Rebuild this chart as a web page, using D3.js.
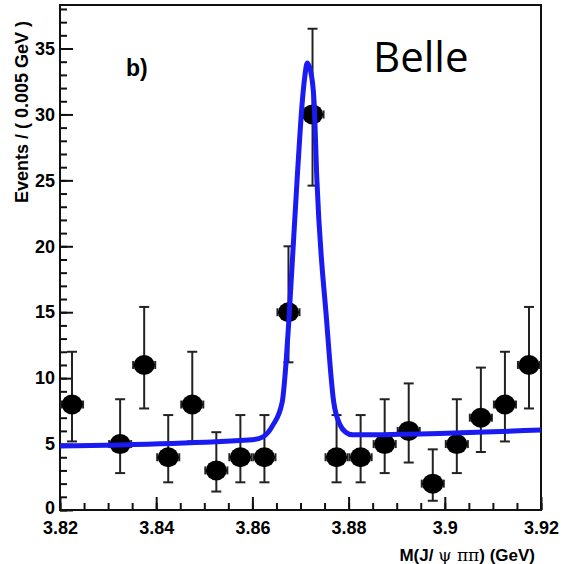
<!DOCTYPE html>
<html>
<head>
<meta charset="utf-8">
<script src="https://cdn.jsdelivr.net/npm/d3@7"></script>
<style>
  body { margin: 0; background: #fff; }
  text { font-family: "Liberation Sans", Arial, sans-serif; font-weight: bold; fill: #000; }
</style>
</head>
<body>
<script>
// bin centres (GeV), counts and asymmetric errors
var mass   = [3.8225, 3.8325, 3.8375, 3.8425, 3.8475, 3.8525, 3.8575, 3.8625, 3.8675, 3.8725,
              3.8775, 3.8825, 3.8875, 3.8925, 3.8975, 3.9025, 3.9075, 3.9125, 3.9175];
var events = [8, 5, 11, 4, 8, 3, 4, 4, 15, 30, 4, 4, 5, 6, 2, 5, 7, 8, 11];
var errLo  = [5.2, 2.8, 7.7, 2.1, 5.2, 1.4, 2.1, 2.1, 11.2, 24.6, 2.1, 2.1, 2.8, 3.6, 0.7, 2.8, 4.4, 5.2, 7.7];
var errHi  = [12.0, 8.4, 15.4, 7.2, 12.0, 5.9, 7.2, 7.2, 20.0, 36.5, 7.2, 7.2, 8.4, 9.6, 4.6, 8.4, 10.8, 12.0, 15.4];
var binHalf = 0.0025;

// fit curve, points
var fitMass = [3.8200, 3.8600, 3.8622, 3.8642, 3.8662, 3.8670, 3.8676, 3.8693, 3.8704, 3.8709, 3.8714,
               3.8723, 3.8728, 3.8734, 3.8754, 3.8769, 3.8783, 3.8794, 3.8808, 3.9200];
var fitVal  = [4.85, 5.33, 5.55, 6.4, 8.2, 11.2, 14.5, 25.1, 31.1, 32.9, 33.9,
               32.9, 31.1, 25.1, 14.5, 8.2, 6.4, 5.9, 5.7, 6.06];

var xTicks = [3.82, 3.84, 3.86, 3.88, 3.90, 3.92];
var xMinor = [];
for (var i = 0; i <= 20; i++) xMinor.push(3.82 + i * 0.005);
var yTicks = [0, 5, 10, 15, 20, 25, 30, 35];
var yMinor = d3.range(0, 39, 1);

var width = 564, height = 564;
var margin = {left: 60, right: 23, top: 5, bottom: 54};

var svg = d3.select("body").append("svg")
            .attr("width", width)
            .attr("height", height);

var x = d3.scaleLinear().domain([3.82, 3.92]).range([margin.left, width - margin.right]);
var y = d3.scaleLinear().domain([0, 38.3]).range([height - margin.bottom, margin.top]);

// minor ticks
svg.append("g")
   .attr("transform", "translate(" + margin.left + ",0)")
   .call(d3.axisLeft(y).tickValues(yMinor).tickSize(-7).tickFormat(""))
   .call(function(g) { g.select(".domain").remove(); g.selectAll("line").attr("stroke", "#111").attr("stroke-width", 2); });
svg.append("g")
   .attr("transform", "translate(0," + (height - margin.bottom) + ")")
   .call(d3.axisBottom(x).tickValues(xMinor).tickSize(-7).tickFormat(""))
   .call(function(g) { g.select(".domain").remove(); g.selectAll("line").attr("stroke", "#111").attr("stroke-width", 2); });

// major ticks + labels
svg.append("g")
   .attr("transform", "translate(" + margin.left + ",0)")
   .call(d3.axisLeft(y).tickValues(yTicks).tickSizeInner(-13).tickSizeOuter(0).tickPadding(5).tickFormat(d3.format("d")))
   .call(function(g) {
     g.select(".domain").remove();
     g.selectAll("line").attr("stroke", "#111").attr("stroke-width", 2);
     g.selectAll("text").attr("font-size", "18px").attr("font-family", null);
     // the 0 sits a touch higher, just above the 3.82
     g.selectAll("text").filter(function(d) { return d === 0; }).attr("dy", "0.2em");
   });
svg.append("g")
   .attr("transform", "translate(0," + (height - margin.bottom) + ")")
   .call(d3.axisBottom(x).tickValues(xTicks).tickSizeInner(-13).tickSizeOuter(0).tickPadding(11)
           .tickFormat(function(d) { return String(+d.toFixed(2)); }))
   .call(function(g) {
     g.select(".domain").remove();
     g.selectAll("line").attr("stroke", "#111").attr("stroke-width", 2);
     g.selectAll("text").attr("font-size", "18px").attr("font-family", null);
   });

// frame
svg.append("rect")
   .attr("x", margin.left).attr("y", margin.top)
   .attr("width", width - margin.left - margin.right)
   .attr("height", height - margin.top - margin.bottom)
   .attr("fill", "none").attr("stroke", "#111").attr("stroke-width", 2);

var pts = mass.map(function(m, i) { return {m: m, n: events[i], lo: errLo[i], hi: errHi[i]}; });

var bars = svg.append("g").attr("stroke", "#222").attr("stroke-width", 2);
// vertical errors
bars.selectAll(".ev").data(pts).enter().append("line")
    .attr("x1", function(d) { return x(d.m); }).attr("x2", function(d) { return x(d.m); })
    .attr("y1", function(d) { return y(d.lo); }).attr("y2", function(d) { return y(d.hi); });
bars.selectAll(".cap1").data(pts).enter().append("line")
    .attr("x1", function(d) { return x(d.m) - 5; }).attr("x2", function(d) { return x(d.m) + 5; })
    .attr("y1", function(d) { return y(d.hi); }).attr("y2", function(d) { return y(d.hi); });
bars.selectAll(".cap2").data(pts).enter().append("line")
    .attr("x1", function(d) { return x(d.m) - 5; }).attr("x2", function(d) { return x(d.m) + 5; })
    .attr("y1", function(d) { return y(d.lo); }).attr("y2", function(d) { return y(d.lo); });
// horizontal bin width
bars.selectAll(".eh").data(pts).enter().append("line")
    .attr("x1", function(d) { return x(d.m - binHalf) + 1; }).attr("x2", function(d) { return x(d.m + binHalf) - 1; })
    .attr("y1", function(d) { return y(d.n); }).attr("y2", function(d) { return y(d.n); });
bars.selectAll(".hl").data(pts).enter().append("line")
    .attr("x1", function(d) { return x(d.m - binHalf) + 1; }).attr("x2", function(d) { return x(d.m - binHalf) + 1; })
    .attr("y1", function(d) { return y(d.n) - 4; }).attr("y2", function(d) { return y(d.n) + 4; });
bars.selectAll(".hr").data(pts).enter().append("line")
    .attr("x1", function(d) { return x(d.m + binHalf) - 1; }).attr("x2", function(d) { return x(d.m + binHalf) - 1; })
    .attr("y1", function(d) { return y(d.n) - 4; }).attr("y2", function(d) { return y(d.n) + 4; });

svg.append("g").selectAll("ellipse").data(pts).enter().append("ellipse")
   .attr("cx", function(d) { return x(d.m); })
   .attr("cy", function(d) { return y(d.n); })
   .attr("rx", 10.5).attr("ry", 10)
   .attr("fill", "#000");

// fit line
var fit = fitMass.map(function(m, i) { return [m, fitVal[i]]; });
svg.append("path")
   .datum(fit)
   .attr("d", d3.line().x(function(d) { return x(d[0]); }).y(function(d) { return y(d[1]); }).curve(d3.curveMonotoneX))
   .attr("fill", "none")
   .attr("stroke", "#1a1af2")
   .attr("stroke-width", 5)
   .attr("stroke-linejoin", "round");

// labels
svg.append("text")
   .attr("transform", "translate(28,112) rotate(-90)")
   .attr("text-anchor", "middle")
   .attr("font-size", "18px")
   .text("Events / ( 0.005 GeV )");

var xl = svg.append("text")
   .attr("x", 535).attr("y", 561)
   .attr("text-anchor", "end")
   .attr("font-size", "17px");
xl.append("tspan").text("M(J/ ");
xl.append("tspan").style("font-family", "'DejaVu Serif', serif").style("font-weight", "normal").text("ψ ππ");
xl.append("tspan").text(") (GeV)");

svg.append("text")
   .attr("x", 126).attr("y", 76)
   .attr("font-size", "23px")
   .text("b)");

svg.append("text")
   .attr("x", 373).attr("y", 72)
   .attr("font-size", "42px")
   .style("font-weight", "normal")
   .style("font-family", "'Open Sans', sans-serif")
   .text("Belle");
</script>
</body>
</html>
